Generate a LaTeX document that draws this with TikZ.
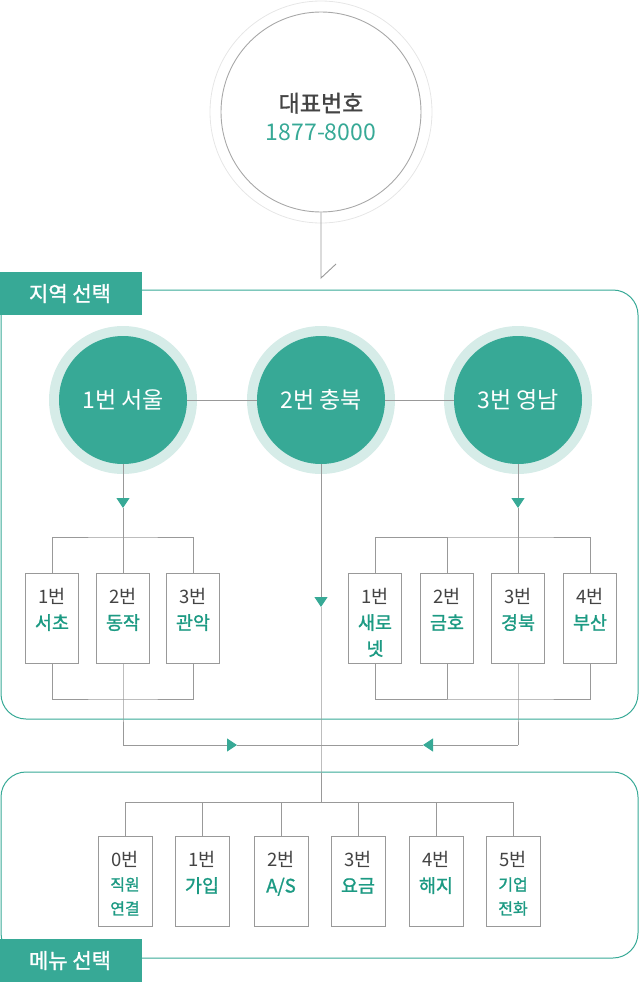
\documentclass[tikz,border=0pt]{standalone}
\usepackage{fontspec}
\setmainfont{Noto Sans CJK KR}
\newfontfamily\medfont{Noto Sans CJK KR}[FakeBold=1.3]
\usetikzlibrary{arrows.meta}
\definecolor{teal1}{HTML}{37A996}
\definecolor{ring1}{HTML}{D6ECE8}
\definecolor{line1}{HTML}{999999}
\definecolor{txtg}{HTML}{1C9A83}
\definecolor{txtd}{HTML}{444444}
\definecolor{outerg}{HTML}{E6E6E6}
\tikzset{
  gline/.style={draw=line1, line width=0.9pt},
  tline/.style={draw=teal1, line width=1pt},
  arr/.style={gline, -{Triangle[length=10pt,width=13pt,color=teal1]}},
  lab/.style={fill=teal1, text=white, minimum width=144pt, minimum height=43pt, inner sep=0pt, font=\medfont\fontsize{21}{21}\selectfont},
  bigc/.style={circle, fill=teal1, minimum size=128pt, inner sep=0pt, text=white, font=\fontsize{23}{23}\selectfont},
  sbox/.style={draw=line1, line width=0.9pt, fill=white, minimum width=53pt, minimum height=90pt, inner sep=0pt, anchor=north},
  stext/.style={anchor=north, align=center, inner sep=0pt, text=txtd, font=\fontsize{18.5}{26}\selectfont},
}
\newcommand{\gt}{\medfont\color{txtg}}
\newcommand{\gs}{\medfont\fontsize{16}{23}\selectfont\color{txtg}}
\begin{document}
\begin{tikzpicture}[x=1pt,y=-1pt]
\useasboundingbox (0,0) rectangle (640,982);
% main circle
\coordinate (pm) at (321,112);
\draw[outerg, line width=0.8pt] (pm) circle (111pt);
\node[circle, draw=line1!85, line width=0.9pt, minimum size=200pt, inner sep=0pt] (main) at (pm) {};
\node[align=center, inner sep=0pt, font=\fontsize{23}{29}\selectfont] (maintxt) at (321,117) {{\medfont\color{txtd}대표번호}\\\textcolor{teal1}{1877-8000}};
\coordinate (tb) at (321,278);
\coordinate (te) at (336,264);
\draw[gline] (main) -- (tb) -- (te);

% regions
\draw[tline, rounded corners=25pt] (1,290) rectangle (638,719);
\node[lab] (reg1) at (70,293.5) {지역 선택};
\draw[tline, rounded corners=25pt] (1,772) rectangle (638,958);
\node[lab] (reg2) at (70,960.5) {메뉴 선택};

% big circles
\coordinate (p1) at (123,400);
\coordinate (p2) at (321,400);
\coordinate (p3) at (518,400);
\fill[ring1] (p1) circle (74pt);
\fill[ring1] (p2) circle (74pt);
\fill[ring1] (p3) circle (74pt);
\node[bigc] (c1) at (p1) {1번 서울};
\node[bigc] (c2) at (p2) {2번 충북};
\node[bigc] (c3) at (p3) {3번 영남};
\draw[gline] (c1) -- (c2);
\draw[gline] (c2) -- (c3);

% left group boxes
\node[sbox] (b11) at (52,573) {};
\node[sbox] (b12) at (123,573) {};
\node[sbox] (b13) at (193,573) {};
\node[stext] (t11) at ([yshift=-15pt]b11.north) {1번\\\gt 서초};
\node[stext] (t12) at ([yshift=-15pt]b12.north) {2번\\\gt 동작};
\node[stext] (t13) at ([yshift=-15pt]b13.north) {3번\\\gt 관악};

% right group boxes
\node[sbox] (b21) at (375,573) {};
\node[sbox] (b22) at (447,573) {};
\node[sbox] (b23) at (518,573) {};
\node[sbox] (b24) at (590,573) {};
\node[stext] (t21) at ([yshift=-15pt]b21.north) {1번\\\gt 새로\\\gt 넷};
\node[stext] (t22) at ([yshift=-15pt]b22.north) {2번\\\gt 금호};
\node[stext] (t23) at ([yshift=-15pt]b23.north) {3번\\\gt 경북};
\node[stext] (t24) at ([yshift=-15pt]b24.north) {4번\\\gt 부산};

% menu boxes
\node[sbox, minimum width=54pt] (d0) at (125,836) {};
\node[sbox, minimum width=54pt] (d1) at (202,836) {};
\node[sbox, minimum width=54pt] (d2) at (281,836) {};
\node[sbox, minimum width=54pt] (d3) at (358,836) {};
\node[sbox, minimum width=54pt] (d4) at (436,836) {};
\node[sbox, minimum width=54pt] (d5) at (513,836) {};
\node[stext] (s0) at ([yshift=-15pt]d0.north) {0번\\[-2pt]\gs 직원\\[-2pt]\gs 연결};
\node[stext] (s1) at ([yshift=-15pt]d1.north) {1번\\\gt 가입};
\node[stext] (s2) at ([yshift=-15pt]d2.north) {2번\\\gt A/S};
\node[stext] (s3) at ([yshift=-15pt]d3.north) {3번\\\gt 요금};
\node[stext] (s4) at ([yshift=-15pt]d4.north) {4번\\\gt 해지};
\node[stext] (s5) at ([yshift=-15pt]d5.north) {5번\\[-2pt]\gs 기업\\[-2pt]\gs 전화};

% coordinates for connectors
\coordinate (a1) at (123,508);
\coordinate (a2) at (321,607);
\coordinate (a3) at (518,508);
\coordinate (k1) at (123,537);
\coordinate (k3) at (518,537);
\coordinate (m1) at (123,699);
\coordinate (m3) at (518,699);
\coordinate (n1) at (123,745);
\coordinate (n3) at (518,745);
\coordinate (h1) at (237,745);
\coordinate (h3) at (423,745);
\coordinate (jn) at (321,745);
\coordinate (mt) at (321,802);

% left group connectors
\draw[arr] (c1) -- (a1);
\draw[gline] (a1) -- (k1);
\draw[gline] (b11.north) |- (k1) -| (b13.north);
\draw[gline] (k1) -- (b12.north);
\draw[gline] (b11.south) |- (m1) -| (b13.south);
\draw[gline] (b12.south) -- (m1) -- (n1);
\draw[arr] (n1) -- (h1);
\draw[gline] (h1) -- (jn);

% right group connectors
\draw[arr] (c3) -- (a3);
\draw[gline] (a3) -- (k3);
\draw[gline] (b21.north) |- (k3) -| (b24.north);
\draw[gline] (b22.north) -- (b22.north |- k3);
\draw[gline] (k3) -- (b23.north);
\draw[gline] (b21.south) |- (m3) -| (b24.south);
\draw[gline] (b22.south) -- (b22.south |- m3);
\draw[gline] (b23.south) -- (m3) -- (n3);
\draw[arr] (n3) -- (h3);
\draw[gline] (h3) -- (jn);

% center connector
\draw[arr] (c2) -- (a2);
\draw[gline] (a2) -- (jn) -- (mt);

% menu connectors
\draw[gline] (d0.north) |- (mt) -| (d5.north);
\draw[gline] (d1.north) -- (d1.north |- mt);
\draw[gline] (d2.north) -- (d2.north |- mt);
\draw[gline] (d3.north) -- (d3.north |- mt);
\draw[gline] (d4.north) -- (d4.north |- mt);
\end{tikzpicture}
\end{document}
